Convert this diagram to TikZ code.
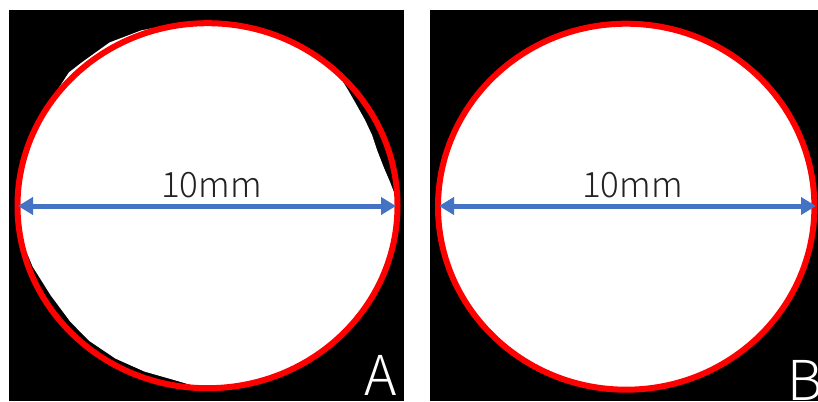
\documentclass[tikz,border=0pt]{standalone}
\usepackage{fontspec}
\IfFontExistsTF{Noto Sans CJK JP Light}
  {\setmainfont{Noto Sans CJK JP Light}}
  {\setmainfont{Noto Sans CJK JP}}
\usetikzlibrary{arrows.meta,shapes.geometric}
\definecolor{ringred}{HTML}{FF0000}
\definecolor{dimblue}{HTML}{4472C4}
\definecolor{txtdark}{HTML}{222222}
\tikzset{
  panel/.style={fill=black, draw=none},
  ring/.style={draw=ringred, line width=6pt},
  dimarrow/.style={draw=dimblue, line width=5pt,
    {Triangle[length=15pt,width=17pt]}-{Triangle[length=15pt,width=17pt]}},
  dimlabel/.style={anchor=base, text=txtdark, font=\fontsize{35}{40}\selectfont, inner sep=0pt},
  panellabel/.style={text=white, font=\fontsize{55}{60}\selectfont, inner sep=0pt}
}
\begin{document}
\begin{tikzpicture}[x=1pt,y=-1pt]
\useasboundingbox (0,0) rectangle (818,401);
\fill[white] (0,0) rectangle (818,401);
% panels
\fill[panel] (9,10) rectangle (404,401);
\fill[panel] (430,10) rectangle (818,401);
% panel A: irregular white specimen
\fill[white] (207.5,23.2) -- (240.5,25.9) -- (272.5,34.2) -- (302.5,47.7) -- (329.6,65.9)
  -- (340,77) -- (348,90) -- (356,104) -- (365,120) -- (372,135) -- (377,150)
  -- (384,168) -- (390,182) -- (395,195) -- (397.5,205.7) -- (394.6,237.4)
  -- (386,268.1) -- (372,297) -- (353,323) -- (329.6,345.5) -- (302.5,363.7)
  -- (272.5,377.2) -- (240.5,385.4) -- (207.5,388.2) -- (190.9,385.0)
  -- (175.9,380.5) -- (144.6,371.6) -- (115.5,358.6) -- (89.2,340.9)
  -- (70.4,321.8) -- (50.8,295.5) -- (32.7,266.7) -- (20.4,237.4) -- (17.5,205.7)
  -- (18.4,173.7) -- (27.1,142.6) -- (43,114.5) -- (59.7,86.5) -- (68.9,72.4)
  -- (82.2,62.1) -- (109.5,42.5) -- (141.2,30.4) -- (174.2,24) -- cycle;
\node[ring, ellipse, minimum width=380pt, minimum height=365pt, inner sep=0pt] (ringA) at (207.5,205.7) {};
% panel B: ideal circle
\node[ring, fill=white, ellipse, minimum width=376.4pt, minimum height=366pt, inner sep=0pt] (ringB) at (626.2,206.7) {};
% dimension arrows
\coordinate (aL) at (18,206);
\coordinate (aR) at (396,206);
\draw[dimarrow] (aL) -- (aR);
\coordinate (bL) at (439,206);
\coordinate (bR) at (816,206);
\draw[dimarrow] (bL) -- (bR);
% labels
\node[dimlabel] (lblA) at (211.5,197) {10mm};
\node[dimlabel] (lblB) at (632.5,197) {10mm};
\node[panellabel, anchor=base] (tagA) at (381,395) {A};
\node[panellabel, anchor=base west] (tagB) at (787,400) {B};
\end{tikzpicture}
\end{document}
